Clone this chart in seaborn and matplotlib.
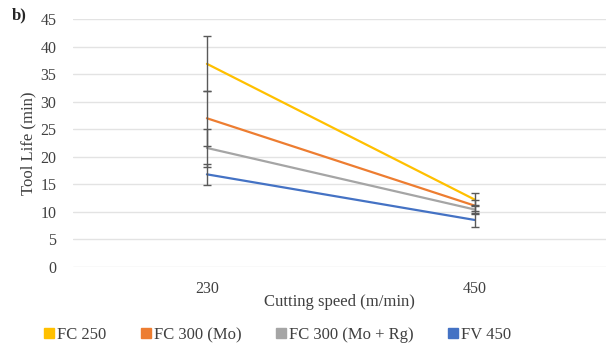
import matplotlib
matplotlib.use("Agg")

import pandas as pd
import matplotlib.pyplot as plt
import seaborn as sns
from matplotlib.lines import Line2D

# data
speeds = ["230", "450"]
series = ["FC 250", "FC 300 (Mo)", "FC 300 (Mo + Rg)", "FV 450"]
fc250 = [36.9, 12.2]
fc300_mo = [27.0, 11.1]
fc300_mo_rg = [21.6, 10.4]
fv450 = [16.8, 8.5]
err_fc250 = [5.0, 1.2]
err_fc300_mo = [5.0, 1.0]
err_fc300_mo_rg = [3.5, 0.8]
err_fv450 = [1.9, 1.3]
colors = ["#FFC000", "#ED7D31", "#A5A5A5", "#4472C4"]

valores = [fc250, fc300_mo, fc300_mo_rg, fv450]
erros = [err_fc250, err_fc300_mo, err_fc300_mo_rg, err_fv450]

linhas = []
for nome, vals, errs in zip(series, valores, erros):
    for i, (v, e) in enumerate(zip(vals, errs)):
        linhas.append({"serie": nome, "pos": i, "vida": v, "erro": e})
df = pd.DataFrame(linhas)

sns.set_theme(style="white")
plt.rcParams["font.family"] = ["Liberation Serif", "DejaVu Serif"]

fig = plt.figure(figsize=(6.06, 3.47), dpi=100)
ax = fig.add_axes([73 / 606, (347 - 266.7) / 347, 533 / 606, (266.7 - 19.3) / 347])

sns.lineplot(data=df, x="pos", y="vida", hue="serie", palette=colors,
             hue_order=series, linewidth=1.6, ax=ax, legend=False, zorder=3)

for nome in series:
    d = df[df["serie"] == nome]
    ax.errorbar(d["pos"], d["vida"], yerr=d["erro"], fmt="none",
                ecolor="#595959", elinewidth=1.0, capsize=3, capthick=1.0, zorder=4)

ax.set_xlim(-0.5, 1.49)
ax.set_ylim(0, 45)
ax.set_yticks(range(0, 46, 5))
ax.set_xticks([0, 1])
ax.set_xticklabels(speeds)
ax.yaxis.grid(True, color="#E3E3E3", linewidth=1)
ax.xaxis.grid(False)
for s in ax.spines.values():
    s.set_visible(False)
ax.tick_params(axis="both", length=0, labelsize=11.5, colors="#404040")
ax.tick_params(axis="y", pad=12)
ax.tick_params(axis="x", pad=10)

ax.set_xlabel("Cutting speed (m/min)", fontsize=12, color="#404040", labelpad=-2)
ax.set_ylabel("Tool Life (min)", fontsize=12, color="#404040", labelpad=3)

fig.text(12 / 606, 1 - 15 / 347, "b)", fontsize=12, fontweight="bold",
         ha="left", va="center")

handles = [Line2D([], [], marker="s", linestyle="none", markersize=6.5,
                  markerfacecolor=c, markeredgecolor=c) for c in colors]
fig.legend(handles, series, loc="center", bbox_to_anchor=(276 / 606, 1 - 335 / 347),
           ncol=4, frameon=False, fontsize=12, handletextpad=0.0,
           columnspacing=1.85, handlelength=1.0, labelcolor="#404040")

fig.savefig("out.png", dpi=100)
